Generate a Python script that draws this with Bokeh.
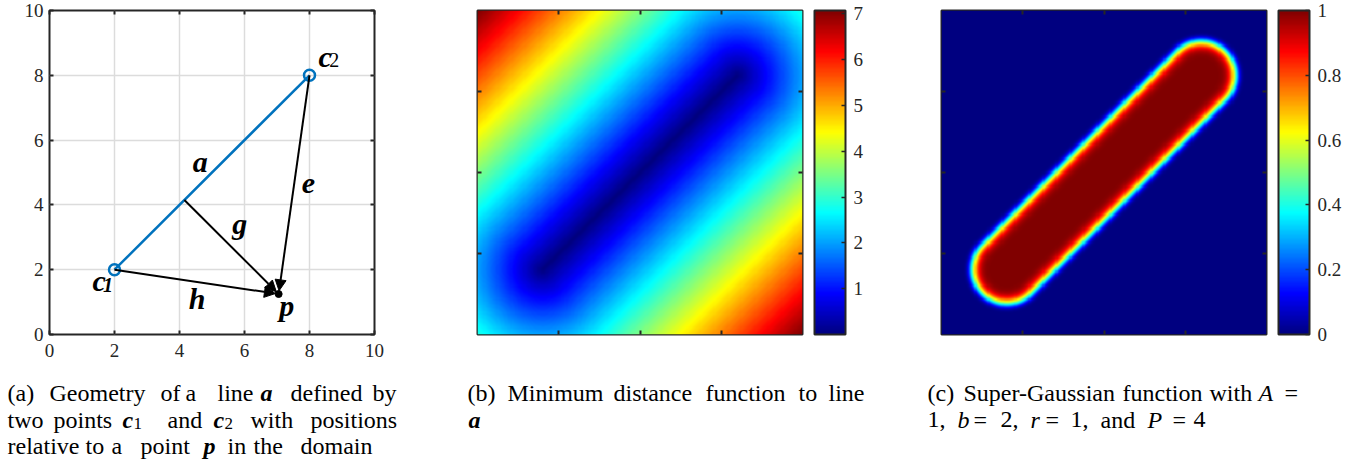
import numpy as np
from bokeh.plotting import figure
from bokeh.models import (Range1d, LinearAxis, FixedTicker, Arrow, NormalHead, Label,
                          LinearColorMapper, ColorBar, CustomJSTickFormatter)
from bokeh.layouts import row, column
from bokeh.embed import file_html
from bokeh.resources import INLINE

# ---------------- data ----------------
c1 = [2.0, 2.0]          # first point of line a
c2 = [8.0, 8.0]          # second point of line a
p_pt = [7.05, 1.25]      # point p in the domain
domain = [0.0, 10.0]
axis_ticks = [0, 2, 4, 6, 8, 10]
image_ticks = [2.5, 5.0, 7.5]
dist_ticks = [1, 2, 3, 4, 5, 6, 7]
sg_ticks = [0, 0.2, 0.4, 0.6, 0.8, 1.0]
sg_A, sg_b, sg_r, sg_P = 1.0, 2.0, 1.0, 4.0   # Super-Gaussian parameters
grid_n = 301

# ---------------- derived fields ----------------
seg = np.array(c2) - np.array(c1)
tp = np.clip(np.dot(np.array(p_pt) - np.array(c1), seg) / np.dot(seg, seg), 0, 1)
foot = np.array(c1) + tp * seg

xs = np.linspace(domain[0], domain[1], grid_n)
X, Y = np.meshgrid(xs, xs)
T = np.clip(((X - c1[0]) * seg[0] + (Y - c1[1]) * seg[1]) / np.dot(seg, seg), 0, 1)
D = np.hypot(X - (c1[0] + T * seg[0]), Y - (c1[1] + T * seg[1]))
SG = sg_A * np.exp(-((D / sg_r) ** (2 * sg_P)) / sg_b)


def jet(n=256):
    x = np.linspace(0, 1, n)
    r = np.clip(np.minimum(4 * x - 1.5, -4 * x + 4.5), 0, 1)
    g = np.clip(np.minimum(4 * x - 0.5, -4 * x + 3.5), 0, 1)
    b = np.clip(np.minimum(4 * x + 0.5, -4 * x + 2.5), 0, 1)
    return ["#%02x%02x%02x" % (int(round(rr * 255)), int(round(gg * 255)), int(round(bb * 255)))
            for rr, gg, bb in zip(r, g, b)]


JET = jet(256)
SERIF = "Liberation Serif"
AX = "#262626"
TOP = 10
FRAME_H = 324
PLOT_BOTTOM = 30
PLOT_H = TOP + FRAME_H + PLOT_BOTTOM      # 364
CAP_H = 100                                # captions area, total 464
EMPTY = CustomJSTickFormatter(code="return '';")


def style_axis(ax, ticks, show_labels):
    ax.ticker = FixedTicker(ticks=ticks)
    ax.major_tick_in = 4
    ax.major_tick_out = 0
    ax.minor_tick_line_color = None
    ax.major_tick_line_color = AX
    ax.major_tick_line_width = 2
    ax.axis_line_color = None
    if show_labels:
        ax.major_label_text_font = SERIF
        ax.major_label_text_font_size = "19px"
        ax.major_label_text_color = AX
    else:
        ax.formatter = EMPTY
        ax.major_label_standoff = 0


def make_fig(width, left, right):
    f = figure(width=width, height=PLOT_H,
               x_range=Range1d(*domain), y_range=Range1d(*domain),
               output_backend="svg", toolbar_location=None,
               min_border_left=left, min_border_right=right,
               min_border_top=TOP, min_border_bottom=PLOT_BOTTOM)
    f.outline_line_color = AX
    f.outline_line_width = 2
    f.background_fill_color = "white"
    f.border_fill_color = "white"
    return f


def caption_fig(width, page_left, words):
    f = figure(width=width, height=CAP_H, x_range=Range1d(0, width), y_range=Range1d(0, CAP_H),
               x_axis_type=None, y_axis_type=None, output_backend="svg",
               toolbar_location=None, min_border=0, min_border_left=0, min_border_right=0,
               min_border_top=0, min_border_bottom=0)
    f.outline_line_color = None
    f.background_fill_color = "white"
    f.border_fill_color = "white"
    f.grid.visible = False
    for (px, base, txt, style, size) in words:
        f.add_layout(Label(x=px - page_left, y=PLOT_H + CAP_H - base, text=txt,
                           text_font=SERIF, text_font_style=style,
                           text_font_size=size, text_color="black",
                           text_align="left", text_baseline="alphabetic"))
    return f


L1, L2, L3 = 392, 419, 445
N, BI, IT = "normal", "bold italic", "italic"
S, SUB = "24px", "17px"

# ---------------- panel (a) ----------------
fa = make_fig(460, 49, 86)
style_axis(fa.xaxis[0], axis_ticks, True)
style_axis(fa.yaxis[0], axis_ticks, True)
fa.xaxis.major_label_standoff = 9
fa.yaxis.major_label_standoff = 6
for side in ("above", "right"):
    ax = LinearAxis()
    style_axis(ax, axis_ticks, False)
    fa.add_layout(ax, side)
fa.xgrid.ticker = FixedTicker(ticks=axis_ticks)
fa.ygrid.ticker = FixedTicker(ticks=axis_ticks)
fa.grid.grid_line_color = "#dcdcdc"
fa.grid.grid_line_width = 1.5

fa.line(x=[c1[0], c2[0]], y=[c1[1], c2[1]], line_color="#0072BD", line_width=2.5)
for start in (c1, foot, c2):
    d = np.array(p_pt) - np.array(start)
    tip = np.array(p_pt) - 0.1 * d / np.hypot(*d)
    fa.add_layout(Arrow(end=NormalHead(size=11, fill_color="black", line_color="black", line_width=1),
                        x_start=float(start[0]), y_start=float(start[1]),
                        x_end=float(tip[0]), y_end=float(tip[1]), line_color="black", line_width=2))
fa.scatter(x=[c1[0], c2[0]], y=[c1[1], c2[1]], marker="circle", size=11,
           fill_color=None, line_color="#0072BD", line_width=2.5)
fa.scatter(x=[p_pt[0]], y=[p_pt[1]], marker="circle", size=7, fill_color="black", line_color="black")

for (lx, ly, txt, style, size) in [
        (4.64, 5.34, "a", BI, "30px"),
        (7.97, 4.66, "e", BI, "30px"),
        (5.85, 3.43, "g", BI, "30px"),
        (4.54, 1.10, "h", BI, "30px"),
        (7.30, 0.90, "p", BI, "30px"),
        (1.53, 1.67, "c", BI, "30px"),
        (1.80, 1.52, "1", BI, "20px"),
        (8.48, 8.59, "c", BI, "30px"),
        (8.76, 8.48, "2", N, "20px")]:
    fa.add_layout(Label(x=lx, y=ly, text=txt, text_font=SERIF, text_font_style=style,
                        text_font_size=size, text_color="black",
                        text_align="center", text_baseline="alphabetic"))

ca = caption_fig(460, 0, [
    (7, L1, "(a)", N, S), (49, L1, "Geometry", N, S), (160, L1, "of", N, S),
    (185, L1, "a", N, S), (217, L1, "line", N, S), (260, L1, "a", BI, S),
    (290, L1, "defined", N, S), (372, L1, "by", N, S),
    (7, L2, "two", N, S), (53, L2, "points", N, S), (122, L2, "c", BI, S),
    (133, L2 + 4, "1", N, SUB), (167, L2, "and", N, S), (213, L2, "c", BI, S),
    (224, L2 + 4, "2", N, SUB), (250, L2, "with", N, S), (310, L2, "positions", N, S),
    (7, L3, "relative", N, S), (85, L3, "to", N, S), (111, L3, "a", N, S),
    (140, L3, "point", N, S), (203, L3, "p", BI, S), (227, L3, "in", N, S),
    (253, L3, "the", N, S), (300, L3, "domain", N, S)])


# ---------------- panels (b) and (c) ----------------
def heat_panel(width, left, right, field, low, high, ticks, formatter=None):
    f = make_fig(width, left, right)
    style_axis(f.xaxis[0], image_ticks, False)
    style_axis(f.yaxis[0], image_ticks, False)
    for side in ("above", "right"):
        ax = LinearAxis()
        style_axis(ax, image_ticks, False)
        f.add_layout(ax, side)
    f.grid.visible = False
    cm = LinearColorMapper(palette=JET, low=low, high=high)
    f.image(image=[field], x=domain[0], y=domain[0], dw=domain[1] - domain[0],
            dh=domain[1] - domain[0], color_mapper=cm)
    kw = {}
    if formatter is not None:
        kw["formatter"] = formatter
    cb = ColorBar(color_mapper=cm, ticker=FixedTicker(ticks=ticks), location=(337, 0),
                  orientation="vertical", width=31, height=FRAME_H, padding=0, margin=0,
                  label_standoff=8, major_label_text_font=SERIF,
                  major_label_text_font_size="19px", major_label_text_color=AX,
                  major_tick_in=4, major_tick_out=0, major_tick_line_color=AX,
                  major_tick_line_width=1.5, minor_tick_line_color=None,
                  bar_line_color=AX, bar_line_width=2, border_line_color=None,
                  background_fill_color=None, **kw)
    f.add_layout(cb, "center")
    return f


fb = heat_panel(460, 17, 118, D, 0.0, float(D.max()), dist_ticks)
cb_cap = caption_fig(460, 460, [
    (467, L1, "(b)", N, S), (507, L1, "Minimum", N, S), (613, L1, "distance", N, S),
    (705, L1, "function", N, S), (798, L1, "to", N, S), (828, L1, "line", N, S),
    (468, L2, "a", BI, S)])

fc = heat_panel(447, 21, 101, SG, 0.0, 1.0, sg_ticks,
                CustomJSTickFormatter(code="return String(Math.round(tick * 10) / 10);"))
cc_cap = caption_fig(447, 920, [
    (927, L1, "(c)", N, S), (963, L1, "Super-Gaussian", N, S), (1122, L1, "function", N, S),
    (1209, L1, "with", N, S), (1258, L1, "A", IT, S), (1284, L1, "=", N, S),
    (927, L2, "1,", N, S), (957, L2, "b", IT, S), (973, L2, "=", N, S), (1000, L2, "2,", N, S),
    (1030, L2, "r", IT, S), (1045, L2, "=", N, S), (1070, L2, "1,", N, S),
    (1100, L2, "and", N, S), (1147, L2, "P", IT, S), (1172, L2, "=", N, S),
    (1193, L2, "4", N, S)])

layout = column(row(fa, fb, fc, spacing=0), row(ca, cb_cap, cc_cap, spacing=0), spacing=0)
open("out.html", "w").write(file_html(layout, INLINE))
